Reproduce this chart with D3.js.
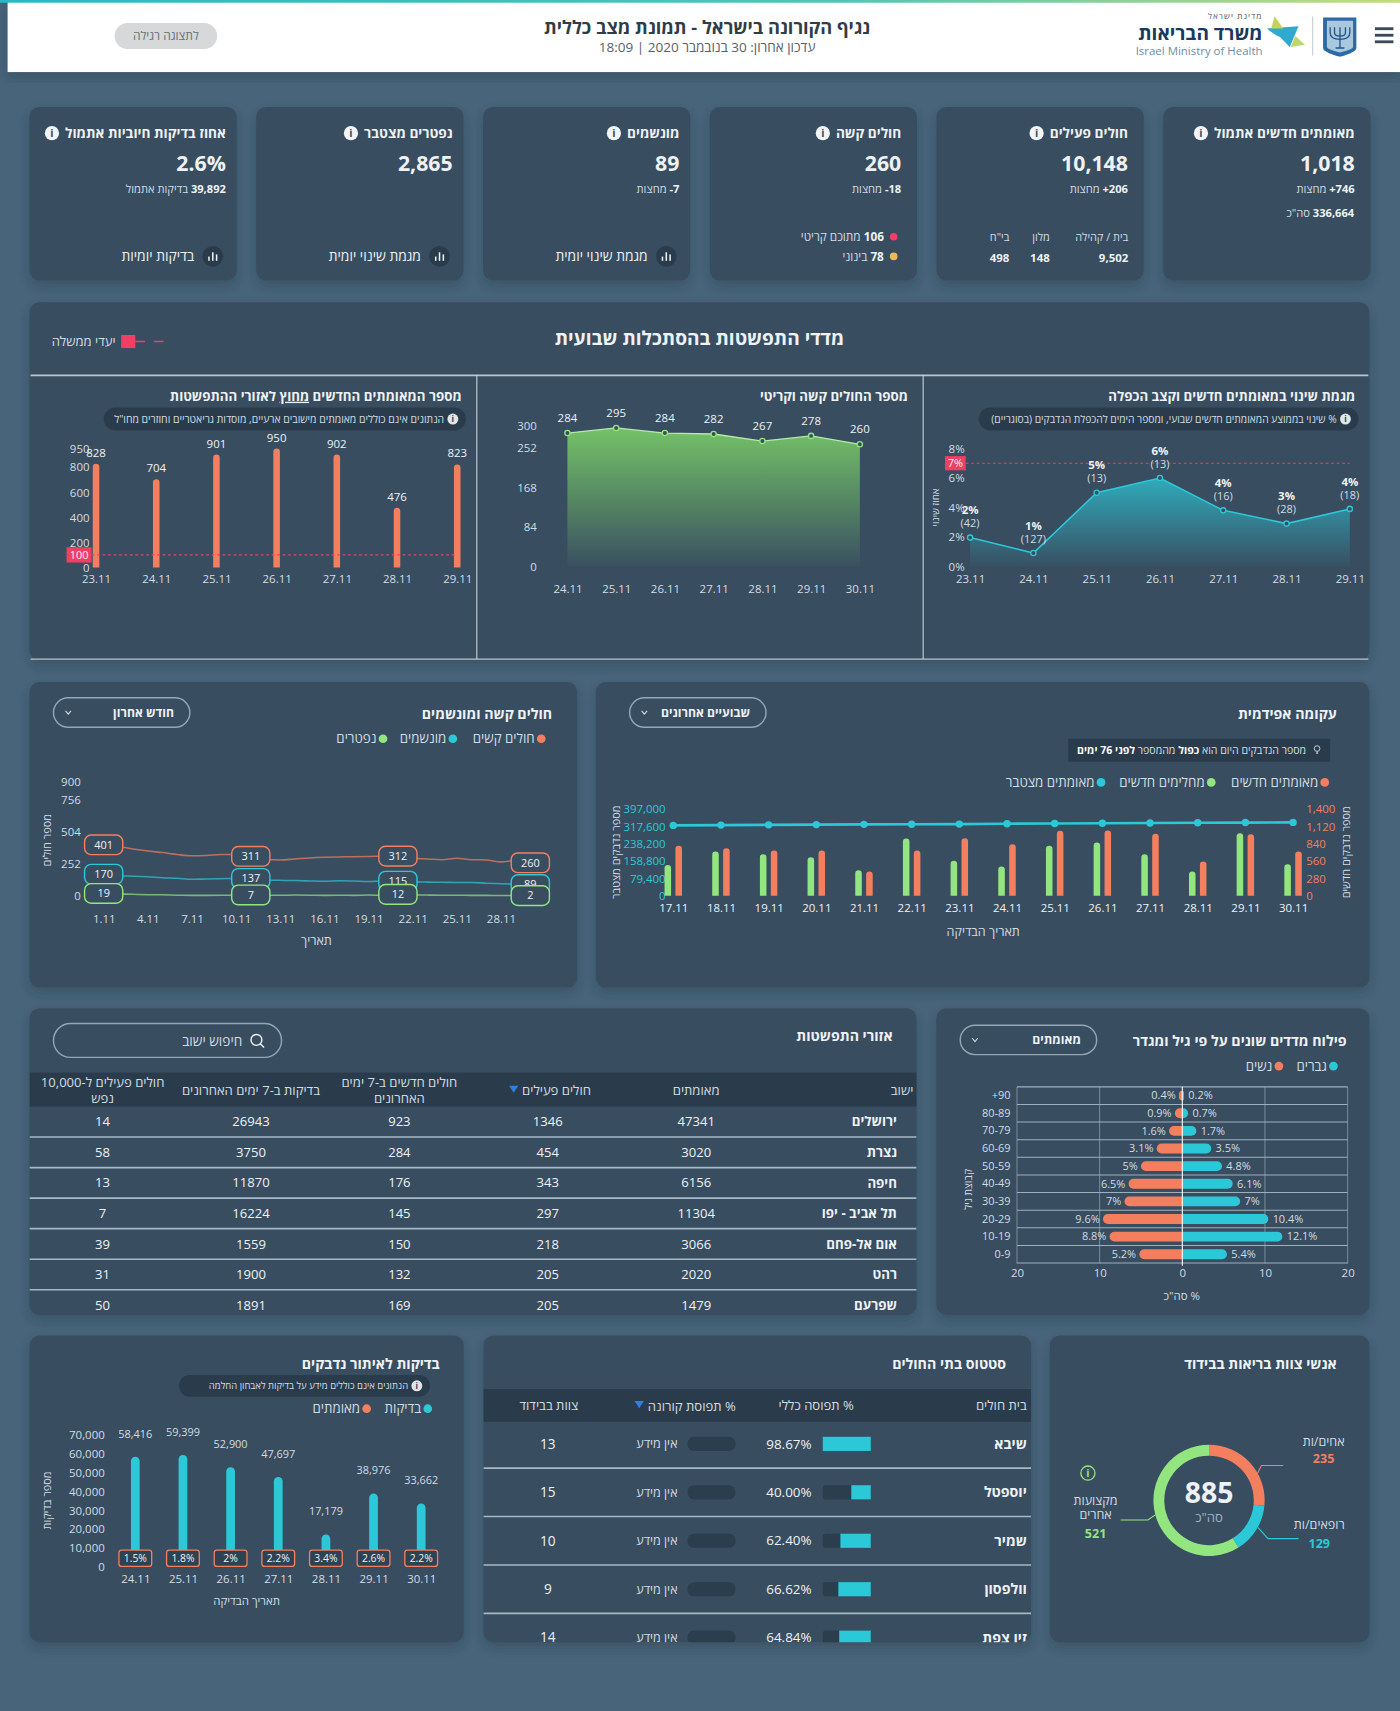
<!DOCTYPE html>
<html lang="he">
<head>
<meta charset="utf-8">
<title>נגיף הקורונה בישראל</title>
<script src="https://cdn.jsdelivr.net/npm/d3@7/dist/d3.min.js"></script>
<style>
html, body { margin: 0; padding: 0; background: #48647a; }
svg { display: block; font-family: "Open Sans", "Liberation Sans", "DejaVu Sans", sans-serif; }
</style>
</head>
<body>
<div id="chart"></div>
<script>
// KPI cards, right to left
var kpiTitles = ['מאומתים חדשים אתמול', 'חולים פעילים', 'חולים קשה', 'מונשמים', 'נפטרים מצטבר', 'אחוז בדיקות חיוביות אתמול'];
var kpiValues = ['1,018', '10,148', '260', '89', '2,865', '2.6%'];
var kpiSubNumbers = ['\u200E+746', '\u200E+206', '\u200E-18', '\u200E-7', '', '39,892'];
var kpiSubTexts = [' מחצות', ' מחצות', ' מחצות', ' מחצות', '', ' בדיקות אתמול'];

// weekly indicators
var trendDates = ['23.11', '24.11', '25.11', '26.11', '27.11', '28.11', '29.11'];
var trendPct = [1.95, 0.9, 5, 6, 3.8, 2.9, 3.9];
var trendPctLabels = ['2%', '1%', '5%', '6%', '4%', '3%', '4%'];
var trendDoubling = ['(42)', '(127)', '(13)', '(13)', '(16)', '(28)', '(18)'];
var trendTicks = [0, 2, 4, 6, 8];

var severeDates = ['24.11', '25.11', '26.11', '27.11', '28.11', '29.11', '30.11'];
var severeWeek = [284, 295, 284, 282, 267, 278, 260];
var severeTicks = [0, 84, 168, 252, 300];

var outsideConfirmed = [828, 704, 901, 950, 902, 476, 823];
var outsideTicks = [0, 200, 400, 600, 800, 950];

// epidemic curve
var epiDates = ['17.11', '18.11', '19.11', '20.11', '21.11', '22.11', '23.11', '24.11', '25.11', '26.11', '27.11', '28.11', '29.11', '30.11'];
var epiNew = [808, 770, 733, 733, 393, 733, 932, 835, 1051, 1056, 1002, 555, 997, 717];
var epiRecovered = [500, 717, 673, 625, 415, 927, 566, 474, 808, 862, 673, 393, 1013, 512];
var epiCumulative = [323000, 324300, 325400, 326600, 327800, 328400, 328900, 330600, 331900, 333000, 334000, 335000, 335900, 336664];
var epiRightTicks = [0, 280, 560, 840, 1120, 1400];
var epiLeftTicks = [0, 79400, 158800, 238200, 317600, 397000];

// severe, ventilated, deaths by day of November
var monthDays = d3.range(1, 31);
var monthSevere = [401, 388, 368, 352, 340, 325, 315, 318, 325, 325, 311, 285, 282, 290, 298, 303, 306, 308, 310, 311, 312, 295, 290, 284, 295, 284, 282, 267, 278, 260];
var monthVent = [170, 158, 155, 150, 143, 138, 130, 133, 135, 137, 137, 125, 122, 120, 117, 115, 118, 116, 113, 116, 115, 110, 108, 107, 105, 105, 100, 96, 92, 89];
var monthDeaths = [19, 15, 12, 9, 8, 5, 4, 4, 5, 6, 7, 5, 5, 6, 5, 4, 5, 4, 6, 5, 12, 8, 6, 5, 5, 4, 4, 3, 3, 2];
var monthTickDays = [1, 4, 7, 10, 13, 16, 19, 22, 25, 28];
var monthMarkDays = [1, 11, 21, 30];
var monthTicks = [0, 252, 504, 756, 900];

// age and gender
var ageGroups = ['+90', '80-89', '70-79', '60-69', '50-59', '40-49', '30-39', '20-29', '10-19', '0-9'];
var agesWomen = [0.4, 0.9, 1.6, 3.1, 5, 6.5, 7, 9.6, 8.8, 5.2];
var agesMen = [0.2, 0.7, 1.7, 3.5, 4.8, 6.1, 7, 10.4, 12.1, 5.4];

// cities table
var cityHeaders = [['ישוב'], ['מאומתים'], ['חולים פעילים'], ['חולים חדשים ב-7 ימים', 'האחרונים'], ['בדיקות ב-7 ימים האחרונים'], ['חולים פעילים ל-10,000', 'נפש']];
var cityNames = ['ירושלים', 'נצרת', 'חיפה', 'תל אביב - יפו', 'אום אל-פחם', 'רהט', 'שפרעם'];
var cityConfirmed = [47341, 3020, 6156, 11304, 3066, 2020, 1479];
var cityActive = [1346, 454, 343, 297, 218, 205, 205];
var cityNew = [923, 284, 176, 145, 150, 132, 169];
var cityTests = [26943, 3750, 11870, 16224, 1559, 1900, 1891];
var cityPer10k = [14, 58, 13, 7, 39, 31, 50];

// hospitals
var hospitalHeaders = ['בית חולים', '% תפוסה כללי', '% תפוסת קורונה', 'צוות בבידוד'];
var hospitalNames = ['שיבא', 'יוספטל', 'שמיר', 'וולפסון', 'זיו צפת'];
var hospitalOccupancy = [98.67, 40.00, 62.40, 66.62, 64.84];
var hospitalStaff = [13, 15, 10, 9, 14];

// staff in isolation
var staffLabels = ['אחים/ות', 'רופאים/ות', 'מקצועות אחרים'];
var staffValues = [235, 129, 521];

// tests
var testDates = ['24.11', '25.11', '26.11', '27.11', '28.11', '29.11', '30.11'];
var testValues = [58416, 59399, 52900, 47697, 17179, 38976, 33662];
var testPositive = ['1.5%', '1.8%', '2%', '2.2%', '3.4%', '2.6%', '2.2%'];
var testTicks = [0, 10000, 20000, 30000, 40000, 50000, 60000, 70000];

var ORANGE = '#f47f5f', GREEN = '#93e57f', BLUE = '#2bc9d8', CARD = '#384e60', DARK = '#2a3c4b',
    LIGHT = '#eef2f5', SOFT = '#d3dce2', RED = '#ef3f63', RULE = '#a5b9c6';

// the whole page is laid out on a 1283 wide grid
var svg = d3.select('#chart').append('svg')
    .attr('width', 1400)
    .attr('height', 1711)
    .attr('viewBox', '0 0 1283 1568');

var defs = svg.append('defs');

var shadow = defs.append('filter').attr('id', 'shadow')
    .attr('x', '-10%').attr('y', '-10%').attr('width', '120%').attr('height', '125%');
shadow.append('feDropShadow')
    .attr('dx', 0).attr('dy', 5).attr('stdDeviation', 5)
    .attr('flood-color', '#1e2c38').attr('flood-opacity', 0.3);

function gradient(id, color, from) {
    var g = defs.append('linearGradient').attr('id', id)
        .attr('x1', 0).attr('y1', 0).attr('x2', 0).attr('y2', 1);
    g.append('stop').attr('offset', 0).attr('stop-color', color).attr('stop-opacity', from);
    g.append('stop').attr('offset', 1).attr('stop-color', color).attr('stop-opacity', 0.03);
}
gradient('tealFill', '#2fb0c0', 0.95);
gradient('greenFill', '#74c267', 1);

var stripe = defs.append('linearGradient').attr('id', 'stripe');
stripe.append('stop').attr('offset', 0).attr('stop-color', '#2bb8c4');
stripe.append('stop').attr('offset', 0.6).attr('stop-color', '#4fc6b4');
stripe.append('stop').attr('offset', 1).attr('stop-color', '#c3dc7c');

// y is the vertical middle of the text, x its right edge unless anchor says otherwise
function label(parent, x, y, str, size, o) {
    o = o || {};
    return parent.append('text')
        .attr('x', x)
        .attr('y', y)
        .attr('dy', '.35em')
        .attr('direction', o.ltr ? 'ltr' : 'rtl')
        .attr('text-anchor', o.anchor || 'start')
        .attr('font-size', size)
        .attr('font-weight', o.bold ? 700 : 400)
        .attr('fill', o.fill || LIGHT)
        .text(str);
}

// a bold number followed by plain words
function numbered(parent, x, y, num, words, size) {
    var t = label(parent, x, y, '', size, {fill: SOFT});
    t.append('tspan').attr('font-weight', 700).attr('fill', LIGHT).text(num);
    t.append('tspan').text(words);
    return t;
}

function vlabel(parent, x, y, str, size) {
    return label(parent, 0, 0, str, size, {anchor: 'middle', fill: SOFT})
        .attr('transform', 'translate(' + x + ',' + y + ') rotate(-90)');
}

function panel(x, y, w, h) {
    return svg.append('rect')
        .attr('x', x).attr('y', y).attr('width', w).attr('height', h)
        .attr('rx', 9)
        .attr('fill', CARD)
        .attr('filter', 'url(#shadow)');
}

function clipTo(id, x, y, w, h) {
    defs.append('clipPath').attr('id', id).append('rect')
        .attr('x', x).attr('y', y).attr('width', w).attr('height', h).attr('rx', 9);
    return svg.append('g').attr('clip-path', 'url(#' + id + ')');
}

function infoIcon(parent, x, y, r, bg, fg) {
    parent.append('circle').attr('cx', x).attr('cy', y).attr('r', r).attr('fill', bg);
    label(parent, x, y, 'i', r * 1.5, {anchor: 'middle', ltr: true, bold: true, fill: fg});
}

function hint(parent, x0, x1, y, h, str, size) {
    parent.append('rect').attr('x', x0).attr('y', y - h / 2).attr('width', x1 - x0).attr('height', h)
        .attr('rx', h / 2).attr('fill', DARK);
    infoIcon(parent, x1 - 12, y, 5, '#dfe6ea', DARK);
    return label(parent, x1 - 20, y, str, size, {fill: SOFT});
}

function dropdown(x0, x1, y, h, str) {
    svg.append('rect').attr('x', x0).attr('y', y - h / 2).attr('width', x1 - x0).attr('height', h)
        .attr('rx', h / 2).attr('fill', 'none').attr('stroke', '#93a7b5').attr('stroke-width', 1.3);
    label(svg, x1 - 14.5, y, str, 11.2, {bold: true});
    svg.append('path')
        .attr('d', 'M' + (x0 + 11) + ',' + (y - 1.5) + 'l2.5,3l2.5,-3')
        .attr('fill', 'none').attr('stroke', SOFT);
}

function legendDot(parent, x, y, color, str, size) {
    parent.append('circle').attr('cx', x).attr('cy', y).attr('r', 4).attr('fill', color);
    label(parent, x - 6, y, str, size || 12.2, {fill: SOFT});
}

function styleAxis(g, size, color) {
    g.select('.domain').remove();
    g.selectAll('.tick line').remove();
    g.selectAll('text').attr('font-size', size).attr('fill', color || SOFT);
    g.attr('font-family', null);
    return g;
}

// bar with a rounded top, or rounded end when sideways
function roundTop(x, y0, y1, w) {
    var r = Math.min(w / 2, Math.abs(y0 - y1));
    return 'M' + (x - w / 2) + ',' + y0 + 'V' + (y1 + r) +
        'A' + r + ',' + r + ' 0 0 1 ' + (x - w / 2 + r) + ',' + y1 +
        'H' + (x + w / 2 - r) +
        'A' + r + ',' + r + ' 0 0 1 ' + (x + w / 2) + ',' + (y1 + r) +
        'V' + y0 + 'Z';
}

function roundSide(x0, x1, y, h) {
    var s = x1 > x0 ? 1 : 0,
        d = x1 > x0 ? 1 : -1,
        r = Math.min(h / 2, Math.abs(x1 - x0));
    return 'M' + x0 + ',' + (y - h / 2) + 'H' + (x1 - d * r) +
        'A' + r + ',' + r + ' 0 0 ' + s + ' ' + x1 + ',' + (y - h / 2 + r) +
        'V' + (y + h / 2 - r) +
        'A' + r + ',' + r + ' 0 0 ' + s + ' ' + (x1 - d * r) + ',' + (y + h / 2) +
        'H' + x0 + 'Z';
}

// ---- header
svg.append('rect').attr('x', 7).attr('y', 0).attr('width', 1276).attr('height', 66)
    .attr('fill', '#fff').attr('filter', 'url(#shadow)');
svg.append('rect').attr('x', 0).attr('y', 0).attr('width', 1283).attr('height', 2.5).attr('fill', 'url(#stripe)');

label(svg, 648, 25, 'נגיף הקורונה בישראל - תמונת מצב כללית', 16.7, {anchor: 'middle', bold: true, fill: '#2f3d49'});
label(svg, 648, 43, 'עדכון אחרון: 30 בנובמבר 2020 | 18:09', 12.4, {anchor: 'middle', fill: '#55626d'});

svg.append('rect').attr('x', 105).attr('y', 21).attr('width', 94).attr('height', 24).attr('rx', 12).attr('fill', '#d6d8da');
label(svg, 152, 33, 'לתצוגה רגילה', 11, {anchor: 'middle', fill: '#66717a'});

label(svg, 1157, 15, 'מדינת ישראל', 7.5, {fill: '#44586a'}).attr('letter-spacing', 1);
label(svg, 1157, 30.5, 'משרד הבריאות', 17.5, {bold: true, fill: '#17395c'});
label(svg, 1157, 46.5, 'Israel Ministry of Health', 10.5, {ltr: true, anchor: 'end', fill: '#6f8da6'});
svg.append('path').attr('d', 'M1161,26L1190,24L1182,43L1173,34Q1168,32 1161,26Z').attr('fill', '#2fa9cf');
svg.append('path').attr('d', 'M1168,15L1176,26L1165,26Z').attr('fill', '#c6d25a');
svg.append('path').attr('d', 'M1187,33L1196,41L1183,43Z').attr('fill', '#bcd86a');
svg.append('rect').attr('x', 1202.5).attr('y', 15).attr('width', 1).attr('height', 36).attr('fill', '#c3ccd3');
svg.append('path').attr('d', 'M1212.5,16H1243V44Q1243,48 1228,52Q1212.5,48 1212.5,44Z').attr('fill', '#2a6ba3');
svg.append('path').attr('d', 'M1216,19H1240V43Q1240,45 1228,48Q1216,45 1216,43Z').attr('fill', '#a9c8de');
svg.append('path').attr('d', 'M1219,25V30Q1219,36 1228,36Q1237,36 1237,30V25M1223,25V30Q1223,33 1228,33Q1233,33 1233,30V25M1228,25V44M1224,44H1232')
    .attr('fill', 'none').attr('stroke', '#1f5688').attr('stroke-width', 1.2);
[26, 32, 38].forEach(function(y) {
    svg.append('rect').attr('x', 1260).attr('y', y - 1).attr('width', 17).attr('height', 2.6).attr('fill', '#3a4a58');
});

// ---- KPI cards
var cardRight = d3.scaleLinear().domain([0, 5]).range([1256, 217]);
kpiTitles.forEach(function(title, i) {
    var right = cardRight(i),
        textRight = right - (i >= 3 ? 10 : 14.5),
        g = svg.append('g');
    g.append('rect').attr('x', right - 190).attr('y', 98).attr('width', 190).attr('height', 159)
        .attr('rx', 9).attr('fill', CARD).attr('filter', 'url(#shadow)');
    var t = label(g, textRight, 122, title, 12.5, {bold: true});
    infoIcon(g, textRight - t.node().getComputedTextLength() - 12, 122, 6.5, '#f2f5f7', CARD);
    label(g, textRight, 150, kpiValues[i], 19.5, {bold: true});
    if (kpiSubNumbers[i]) numbered(g, textRight, 173, kpiSubNumbers[i], kpiSubTexts[i], 10.2);

    if (i >= 3) {
        g.append('circle').attr('cx', right - 22).attr('cy', 235).attr('r', 9.5).attr('fill', DARK);
        [[-3.5, 3], [0, 6], [3.5, 4.5]].forEach(function(b) {
            g.append('rect').attr('x', right - 22 + b[0] - 0.7).attr('y', 235 + 4 - b[1] * 1.3)
                .attr('width', 1.4).attr('height', b[1] * 1.3).attr('fill', LIGHT);
        });
        label(g, right - 39, 235, i === 5 ? 'בדיקות יומיות' : 'מגמת שינוי יומית', 12.7, {});
    }
});

var card0 = svg.append('g');
numbered(card0, 1241, 195, '336,664', ' סה"כ', 10.2);

var card1 = svg.append('g');
label(card1, 1034, 217, 'בית / קהילה', 10, {fill: SOFT});
label(card1, 962, 217, 'מלון', 10, {fill: SOFT});
label(card1, 925, 217, 'בי"ח', 10, {fill: SOFT});
label(card1, 1034, 236, '9,502', 10.5, {bold: true});
label(card1, 962, 236, '148', 10.5, {bold: true});
label(card1, 925, 236, '498', 10.5, {bold: true});

var card2 = svg.append('g');
card2.append('circle').attr('cx', 819).attr('cy', 217).attr('r', 3.5).attr('fill', RED);
card2.append('circle').attr('cx', 819).attr('cy', 235).attr('r', 3.5).attr('fill', '#e8bd4e');
numbered(card2, 810, 217, '106', ' מתוכם קריטי', 10.8);
numbered(card2, 810, 235, '78', ' בינוני', 10.8);

// ---- weekly indicators panel
panel(27, 277, 1228, 328);
label(svg, 641, 310, 'מדדי התפשטות בהסתכלות שבועית', 17.5, {anchor: 'middle', bold: true});
label(svg, 106, 313, 'יעדי ממשלה', 12, {fill: SOFT});
svg.append('rect').attr('x', 111).attr('y', 307).attr('width', 13).attr('height', 12).attr('fill', RED);
svg.append('line').attr('x1', 124).attr('x2', 150).attr('y1', 313).attr('y2', 313)
    .attr('stroke', RED).attr('stroke-width', 1.5).attr('stroke-dasharray', '9,8');
svg.append('line').attr('x1', 28).attr('x2', 1254).attr('y1', 344).attr('y2', 344).attr('stroke', '#b6c7d2').attr('stroke-width', 1.5);
svg.append('line').attr('x1', 28).attr('x2', 1254).attr('y1', 604).attr('y2', 604).attr('stroke', '#b6c7d2').attr('stroke-width', 1.2);
[437, 846].forEach(function(x) {
    svg.append('line').attr('x1', x).attr('x2', x).attr('y1', 344).attr('y2', 604).attr('stroke', '#d8e1e7').attr('stroke-width', 0.9);
});

function goalLine(x0, x1, y, box, str) {
    svg.append('line').attr('x1', x0).attr('x2', x1).attr('y1', y).attr('y2', y)
        .attr('stroke', RED).attr('stroke-width', 1).attr('stroke-dasharray', '2.5,2.5');
    svg.append('rect').attr('x', box[0]).attr('y', y - box[1] / 2).attr('width', x0 - box[0]).attr('height', box[1]).attr('fill', RED);
    label(svg, (box[0] + x0) / 2, y, str, 10, {anchor: 'middle', ltr: true});
}

// change in new cases
label(svg, 1242, 363, 'מגמת שינוי במאומתים חדשים וקצב הכפלה', 12.2, {bold: true});
hint(svg, 897, 1245, 384, 21, '% שינוי בממוצע המאומתים חדשים שבועי, ומספר הימים להכפלת הנדבקים (בסוגריים)', 9.4);

var trendX = d3.scalePoint().domain(trendDates).range([889, 1237]),
    trendY = d3.scaleLinear().domain([0, 8]).range([519, 411]);

svg.append('g').attr('transform', 'translate(884,0)')
    .call(d3.axisLeft(trendY).tickValues(trendTicks).tickFormat(function(d) { return d + '%'; }).tickSize(0).tickPadding(0))
    .call(styleAxis, 10.5);
svg.append('g').attr('transform', 'translate(0,519)')
    .call(d3.axisBottom(trendX).tickSize(0).tickPadding(8))
    .call(styleAxis, 10.5);
vlabel(svg, 857, 465, 'אחוז שינוי', 9);

svg.append('path').datum(trendPct)
    .attr('fill', 'url(#tealFill)')
    .attr('d', d3.area().x(function(d, i) { return trendX(trendDates[i]); }).y0(trendY(0)).y1(function(d) { return trendY(d); }));
svg.append('path').datum(trendPct)
    .attr('fill', 'none').attr('stroke', BLUE).attr('stroke-width', 1.4)
    .attr('d', d3.line().x(function(d, i) { return trendX(trendDates[i]); }).y(function(d) { return trendY(d); }));
goalLine(885, 1237, trendY(7), [866, 13], '7%');
trendPct.forEach(function(v, i) {
    var x = trendX(trendDates[i]), y = trendY(v);
    svg.append('circle').attr('cx', x).attr('cy', y).attr('r', 2.4).attr('fill', CARD).attr('stroke', BLUE).attr('stroke-width', 1.2);
    label(svg, x, y - 25, trendPctLabels[i], 10.5, {anchor: 'middle', ltr: true, bold: true});
    label(svg, x, y - 13, trendDoubling[i], 10, {anchor: 'middle', ltr: true, fill: SOFT});
});

// severe patients
label(svg, 832, 363, 'מספר החולים קשה וקריטי', 12.2, {bold: true});

var severeX = d3.scalePoint().domain(severeDates).range([520, 788]),
    severeY = d3.scaleLinear().domain([0, 300]).range([519, 390]);

svg.append('g').attr('transform', 'translate(492,0)')
    .call(d3.axisLeft(severeY).tickValues(severeTicks).tickSize(0).tickPadding(0))
    .call(styleAxis, 10.5);
svg.append('g').attr('transform', 'translate(0,519)')
    .call(d3.axisBottom(severeX).tickSize(0).tickPadding(17))
    .call(styleAxis, 10.5);
svg.append('path').datum(severeWeek)
    .attr('fill', 'url(#greenFill)')
    .attr('d', d3.area().x(function(d, i) { return severeX(severeDates[i]); }).y0(severeY(0)).y1(function(d) { return severeY(d); }));
svg.append('path').datum(severeWeek)
    .attr('fill', 'none').attr('stroke', '#b9e8ae').attr('stroke-width', 1.2)
    .attr('d', d3.line().x(function(d, i) { return severeX(severeDates[i]); }).y(function(d) { return severeY(d); }));
severeWeek.forEach(function(v, i) {
    var x = severeX(severeDates[i]), y = severeY(v);
    svg.append('circle').attr('cx', x).attr('cy', y).attr('r', 2.4).attr('fill', CARD).attr('stroke', GREEN).attr('stroke-width', 1.2);
    label(svg, x, y - 14, v, 10.5, {anchor: 'middle', ltr: true});
});

// new cases outside the spread areas
var outsideTitle = label(svg, 423, 363, '', 12.2, {bold: true});
outsideTitle.append('tspan').text('מספר המאומתים החדשים ');
outsideTitle.append('tspan').attr('text-decoration', 'underline').text('מחוץ');
outsideTitle.append('tspan').text(' לאזורי ההתפשטות');
hint(svg, 95, 427, 384, 21, 'הנתונים אינם כוללים מאומתים מישובים ארעיים, מוסדות גריאטריים וחוזרים מחו"ל', 9.5);

var outsideX = d3.scalePoint().domain(trendDates).range([88, 419]),
    outsideY = d3.scaleLinear().domain([0, 950]).range([520, 411]);

svg.append('g').attr('transform', 'translate(82,0)')
    .call(d3.axisLeft(outsideY).tickValues(outsideTicks).tickSize(0).tickPadding(0))
    .call(styleAxis, 10.5);
svg.append('g').attr('transform', 'translate(0,520)')
    .call(d3.axisBottom(outsideX).tickSize(0).tickPadding(7))
    .call(styleAxis, 10.5);
svg.selectAll('.outside').data(outsideConfirmed).enter().append('path')
    .attr('class', 'outside')
    .attr('fill', ORANGE)
    .attr('d', function(d, i) { return roundTop(outsideX(trendDates[i]), outsideY(0), outsideY(d), 6); });
outsideConfirmed.forEach(function(v, i) {
    label(svg, outsideX(trendDates[i]), outsideY(v) - 10, v, 10.5, {anchor: 'middle', ltr: true});
});
goalLine(84, 419, outsideY(100), [61, 14], '100');

// ---- epidemic curve
panel(546, 625, 709, 280);
label(svg, 1225, 654, 'עקומה אפידמית', 13, {bold: true});
dropdown(577, 702, 653, 27, 'שבועיים אחרונים');
svg.append('rect').attr('x', 979).attr('y', 677).attr('width', 240).attr('height', 21).attr('fill', DARK);
var tip = label(svg, 1197, 687.5, '', 9.7, {fill: SOFT});
tip.append('tspan').text('מספר הנדבקים היום הוא ');
tip.append('tspan').attr('font-weight', 700).attr('fill', '#fff').text('כפול');
tip.append('tspan').text(' מהמספר ');
tip.append('tspan').attr('font-weight', 700).attr('fill', '#fff').text('לפני 76 ימים');
svg.append('circle').attr('cx', 1207).attr('cy', 686).attr('r', 2.6).attr('fill', 'none').attr('stroke', SOFT).attr('stroke-width', 0.8);
svg.append('line').attr('x1', 1207).attr('x2', 1207).attr('y1', 688.6).attr('y2', 691).attr('stroke', SOFT).attr('stroke-width', 1.2);
legendDot(svg, 1214, 717, ORANGE, 'מאומתים חדשים');
legendDot(svg, 1110, 717, GREEN, 'מחלימים חדשים');
legendDot(svg, 1009, 717, BLUE, 'מאומתים מצטבר');

var epiX = d3.scalePoint().domain(epiDates).range([617, 1185]),
    epiRight = d3.scaleLinear().domain([0, 1400]).range([821, 741.6]),
    epiLeft = d3.scaleLinear().domain([0, 397000]).range([821, 741.6]);

svg.append('g').attr('transform', 'translate(610,0)')
    .call(d3.axisLeft(epiLeft).tickValues(epiLeftTicks).tickFormat(d3.format(',')).tickSize(0).tickPadding(0))
    .call(styleAxis, 10.5, BLUE);
svg.append('g').attr('transform', 'translate(1197,0)')
    .call(d3.axisRight(epiRight).tickValues(epiRightTicks).tickFormat(d3.format(',')).tickSize(0).tickPadding(0))
    .call(styleAxis, 10.5, ORANGE);
svg.append('g').attr('transform', 'translate(0,821)')
    .call(d3.axisBottom(epiX).tickSize(0).tickPadding(7))
    .call(styleAxis, 10.5, LIGHT);
svg.selectAll('.recovered').data(epiRecovered).enter().append('path')
    .attr('class', 'recovered').attr('fill', GREEN)
    .attr('d', function(d, i) { return roundTop(epiX(epiDates[i]) - 5, epiRight(0), epiRight(d), 6); });
svg.selectAll('.confirmed').data(epiNew).enter().append('path')
    .attr('class', 'confirmed').attr('fill', ORANGE)
    .attr('d', function(d, i) { return roundTop(epiX(epiDates[i]) + 5, epiRight(0), epiRight(d), 6); });
svg.append('path').datum(epiCumulative)
    .attr('fill', 'none').attr('stroke', BLUE).attr('stroke-width', 2.4)
    .attr('d', d3.line().x(function(d, i) { return epiX(epiDates[i]); }).y(function(d) { return epiLeft(d); }));
svg.selectAll('.cumulative').data(epiCumulative).enter().append('circle')
    .attr('class', 'cumulative').attr('fill', BLUE).attr('r', 3.4)
    .attr('cx', function(d, i) { return epiX(epiDates[i]); })
    .attr('cy', function(d) { return epiLeft(d); });
vlabel(svg, 565, 781, 'מספר נדבקים מצטבר', 10);
vlabel(svg, 1234, 781, 'מספר נדבקים חדשים', 10);
label(svg, 901, 854, 'תאריך הבדיקה', 11.5, {anchor: 'middle', fill: SOFT});

// ---- severe and ventilated
panel(27, 625, 502, 280);
label(svg, 506, 654, 'חולים קשה ומונשמים', 13, {bold: true});
dropdown(49, 174, 653, 27, 'חודש אחרון');
legendDot(svg, 496, 677, ORANGE, 'חולים קשים');
legendDot(svg, 415, 677, BLUE, 'מונשמים');
legendDot(svg, 351, 677, GREEN, 'נפטרים');

var monthX = d3.scaleLinear().domain([1, 30]).range([95, 486]),
    monthY = d3.scaleLinear().domain([0, 900]).range([821, 716]);

svg.append('g').attr('transform', 'translate(74,0)')
    .call(d3.axisLeft(monthY).tickValues(monthTicks).tickSize(0).tickPadding(0))
    .call(styleAxis, 10.5);
svg.append('g').attr('transform', 'translate(0,831)')
    .call(d3.axisBottom(monthX).tickValues(monthTickDays).tickFormat(function(d) { return d + '.11'; }).tickSize(0).tickPadding(7))
    .call(styleAxis, 10.5);
vlabel(svg, 43, 770, 'מספר חולים', 10);
label(svg, 290, 862, 'תאריך', 11.5, {anchor: 'middle', fill: SOFT});

[[monthSevere, ORANGE], [monthVent, BLUE], [monthDeaths, GREEN]].forEach(function(s) {
    svg.append('path').datum(s[0])
        .attr('fill', 'none').attr('stroke', s[1]).attr('stroke-width', 1.4).attr('stroke-opacity', 0.7)
        .attr('d', d3.line().curve(d3.curveMonotoneX)
            .x(function(d, i) { return monthX(monthDays[i]); })
            .y(function(d) { return monthY(d); }));
    monthMarkDays.forEach(function(day) {
        var v = s[0][day - 1], x = monthX(day), y = monthY(v);
        svg.append('rect').attr('x', x - 17.5).attr('y', y - 9).attr('width', 35).attr('height', 18).attr('rx', 6)
            .attr('fill', CARD).attr('stroke', s[1]).attr('stroke-width', 1.3);
        label(svg, x, y, v, 10, {anchor: 'middle', ltr: true});
    });
});

// ---- age pyramid
panel(858, 924, 397, 281);
label(svg, 1234, 954, 'פילוח מדדים שונים על פי גיל ומגדר', 13, {bold: true});
dropdown(880, 1005, 953, 27, 'מאומתים');
legendDot(svg, 1222, 977, BLUE, 'גברים');
legendDot(svg, 1172, 977, ORANGE, 'נשים');

var ageX = d3.scaleLinear().domain([-20, 20]).range([932, 1235]),
    ageY = d3.scaleBand().domain(ageGroups).range([996, 1157.5]);

svg.append('g').attr('transform', 'translate(0,1158)')
    .call(d3.axisBottom(ageX).tickValues([-20, -10, 0, 10, 20]).tickFormat(function(d) { return Math.abs(d); }).tickSize(0).tickPadding(5))
    .call(styleAxis, 10.5);
svg.append('g').attr('transform', 'translate(926,0)')
    .call(d3.axisLeft(ageY).tickSize(0).tickPadding(0))
    .call(styleAxis, 10);
[-20, -10, 10, 20].forEach(function(t) {
    svg.append('line').attr('x1', ageX(t)).attr('x2', ageX(t)).attr('y1', 996).attr('y2', 1158).attr('stroke', '#7f95a5').attr('stroke-width', 0.8);
});
ageGroups.concat(['end']).forEach(function(a, i) {
    var y = 996 + i * ageY.step();
    svg.append('line').attr('x1', ageX(-20)).attr('x2', ageX(20)).attr('y1', y).attr('y2', y).attr('stroke', '#9cb0be').attr('stroke-width', 1);
});
ageGroups.forEach(function(a, i) {
    var y = ageY(a) + ageY.bandwidth() / 2;
    svg.append('path').attr('fill', ORANGE).attr('d', roundSide(ageX(0), ageX(-agesWomen[i]), y, 9));
    svg.append('path').attr('fill', BLUE).attr('d', roundSide(ageX(0), ageX(agesMen[i]), y, 9));
    label(svg, ageX(-agesWomen[i]) - 3, y, agesWomen[i] + '%', 10, {ltr: true, anchor: 'end', fill: SOFT});
    label(svg, ageX(agesMen[i]) + 4, y, agesMen[i] + '%', 10, {ltr: true, anchor: 'start', fill: SOFT});
});
svg.append('line').attr('x1', ageX(0)).attr('x2', ageX(0)).attr('y1', 996).attr('y2', 1160).attr('stroke', '#fff').attr('stroke-width', 1);
vlabel(svg, 887, 1090, 'קבוצת גיל', 9.5);
label(svg, 1083, 1188, '% סה"כ', 10.5, {anchor: 'middle', fill: SOFT});

// ---- cities table
panel(27, 924, 813, 281);
label(svg, 818, 949, 'אזורי התפשטות', 13, {bold: true});
svg.append('rect').attr('x', 49).attr('y', 938).attr('width', 209).attr('height', 31).attr('rx', 15.5)
    .attr('fill', 'none').attr('stroke', '#93a7b5').attr('stroke-width', 1.3);
label(svg, 222, 954, 'חיפוש ישוב', 12.5, {fill: SOFT});
svg.append('circle').attr('cx', 235).attr('cy', 953).attr('r', 5).attr('fill', 'none').attr('stroke', LIGHT).attr('stroke-width', 1.3);
svg.append('line').attr('x1', 238.5).attr('y1', 956.5).attr('x2', 242).attr('y2', 960).attr('stroke', LIGHT).attr('stroke-width', 1.3);

var cityLayer = clipTo('cityClip', 27, 924, 813, 281);
cityLayer.append('rect').attr('x', 27).attr('y', 983).attr('width', 813).attr('height', 31).attr('fill', DARK);

var cityRow = d3.scaleBand().domain(d3.range(cityNames.length)).range([1014, 1210]),
    cityCol = d3.scaleOrdinal().domain(d3.range(6)).range([837, 638, 502, 366, 230, 94]);

cityHeaders.forEach(function(lines, c) {
    lines.forEach(function(line, j) {
        var y = 999 + (j - (lines.length - 1) / 2) * 15;
        label(cityLayer, c === 2 ? 510 : cityCol(c), y, line, 12, {anchor: c ? 'middle' : 'start', fill: SOFT});
    });
});
cityLayer.append('path').attr('d', 'M466.5,995h8.5l-4.2,6.5z').attr('fill', '#2f80dc');

[cityConfirmed, cityActive, cityNew, cityTests, cityPer10k].forEach(function(col, c) {
    col.forEach(function(v, r) {
        label(cityLayer, cityCol(c + 1), cityRow(r) + cityRow.bandwidth() / 2, v, 12, {anchor: 'middle', ltr: true});
    });
});
cityNames.forEach(function(name, r) {
    var y = cityRow(r) + cityRow.bandwidth() / 2;
    label(cityLayer, 822, y, name, 12.2, {bold: true});
    if (r < cityNames.length - 1) {
        cityLayer.append('line').attr('x1', 27).attr('x2', 840).attr('y1', cityRow(r + 1)).attr('y2', cityRow(r + 1))
            .attr('stroke', RULE).attr('stroke-width', 1.5);
    }
});

// ---- staff in isolation
panel(962, 1224, 293, 281);
label(svg, 1225, 1250, 'אנשי צוות בריאות בבידוד', 13, {bold: true});

var staffColors = [ORANGE, BLUE, GREEN],
    staffPie = d3.pie().sort(null)(staffValues),
    staffArc = d3.arc().innerRadius(41).outerRadius(51);

svg.append('g').attr('transform', 'translate(1108,1375)')
    .selectAll('path').data(staffPie).enter().append('path')
    .attr('fill', function(d, i) { return staffColors[i]; })
    .attr('d', staffArc);
label(svg, 1108, 1368, d3.sum(staffValues), 26, {anchor: 'middle', ltr: true, bold: true});
label(svg, 1108, 1391, 'סה"כ', 12, {anchor: 'middle', fill: '#9fb2bf'});

label(svg, 1213, 1321, staffLabels[0], 11.5, {anchor: 'middle', fill: SOFT});
label(svg, 1213, 1337, staffValues[0], 11.5, {anchor: 'middle', ltr: true, bold: true, fill: ORANGE});
label(svg, 1209, 1397, staffLabels[1], 11.5, {anchor: 'middle', fill: SOFT});
label(svg, 1209, 1415, staffValues[1], 11.5, {anchor: 'middle', ltr: true, bold: true, fill: BLUE});
label(svg, 1004, 1375, 'מקצועות', 11.5, {anchor: 'middle', fill: SOFT});
label(svg, 1004, 1388, 'אחרים', 11.5, {anchor: 'middle', fill: SOFT});
label(svg, 1004, 1405, staffValues[2], 11.5, {anchor: 'middle', ltr: true, bold: true, fill: GREEN});
infoIcon(svg, 997, 1350, 6.5, 'none', GREEN);
svg.append('circle').attr('cx', 997).attr('cy', 1350).attr('r', 6.5).attr('fill', 'none').attr('stroke', GREEN).attr('stroke-width', 1.2);
svg.append('path').attr('d', 'M1147,1361L1156,1343H1176').attr('fill', 'none').attr('stroke', ORANGE);
svg.append('path').attr('d', 'M1153,1400L1162,1410H1190').attr('fill', 'none').attr('stroke', BLUE);
svg.append('path').attr('d', 'M1059,1388L1052,1393H1027').attr('fill', 'none').attr('stroke', GREEN);

// ---- hospitals table
panel(443, 1224, 502, 281);
label(svg, 922, 1250, 'סטטוס בתי החולים', 13, {bold: true});

var hospitalLayer = clipTo('hospitalClip', 443, 1224, 502, 281);
hospitalLayer.append('rect').attr('x', 443).attr('y', 1273).attr('width', 502).attr('height', 30).attr('fill', DARK);
label(hospitalLayer, 941, 1288, hospitalHeaders[0], 12, {fill: SOFT});
label(hospitalLayer, 748, 1288, hospitalHeaders[1], 12, {anchor: 'middle', fill: SOFT});
label(hospitalLayer, 634, 1289, hospitalHeaders[2], 12, {anchor: 'middle', fill: SOFT});
label(hospitalLayer, 503, 1288, hospitalHeaders[3], 12, {anchor: 'middle', fill: SOFT});
hospitalLayer.append('path').attr('d', 'M581.5,1284h8.5l-4.2,6.5z').attr('fill', '#2f80dc');

var hospitalRow = d3.scaleBand().domain(d3.range(hospitalNames.length)).range([1301, 1523]),
    occupancyW = d3.scaleLinear().domain([0, 100]).range([0, 44.6]);

hospitalNames.forEach(function(name, r) {
    var y = hospitalRow(r) + hospitalRow.bandwidth() / 2;
    label(hospitalLayer, 941, y, name, 13, {bold: true});
    label(hospitalLayer, 723, y, hospitalOccupancy[r].toFixed(2) + '%', 12.3, {anchor: 'middle', ltr: true});
    hospitalLayer.append('rect').attr('x', 754).attr('y', y - 6.5).attr('width', 44).attr('height', 13).attr('rx', 3).attr('fill', '#2b3e4d');
    hospitalLayer.append('rect').attr('x', 798 - occupancyW(hospitalOccupancy[r])).attr('y', y - 6.5)
        .attr('width', occupancyW(hospitalOccupancy[r])).attr('height', 13).attr('fill', BLUE);
    hospitalLayer.append('rect').attr('x', 630).attr('y', y - 6.5).attr('width', 44).attr('height', 13).attr('rx', 6).attr('fill', '#2b3e4d');
    label(hospitalLayer, 602, y, 'אין מידע', 11.5, {anchor: 'middle', fill: SOFT});
    label(hospitalLayer, 502, y, hospitalStaff[r], 12.5, {anchor: 'middle', ltr: true});
    if (r > 0) {
        hospitalLayer.append('line').attr('x1', 443).attr('x2', 945).attr('y1', hospitalRow(r)).attr('y2', hospitalRow(r))
            .attr('stroke', RULE).attr('stroke-width', 1.5);
    }
});

// ---- tests
panel(27, 1224, 398, 281);
label(svg, 403, 1250, 'בדיקות לאיתור נדבקים', 13, {bold: true});
hint(svg, 164, 394, 1270, 20, 'הנתונים אינם כוללים מידע על בדיקות לאבחון החלמה', 8.7);
legendDot(svg, 392, 1291, BLUE, 'בדיקות');
legendDot(svg, 336, 1291, ORANGE, 'מאומתים');

var testX = d3.scalePoint().domain(testDates).range([124, 386]),
    testY = d3.scaleLinear().domain([0, 70000]).range([1436, 1315]);

svg.append('g').attr('transform', 'translate(96,0)')
    .call(d3.axisLeft(testY).tickValues(testTicks).tickFormat(d3.format(',')).tickSize(0).tickPadding(0))
    .call(styleAxis, 10.5);
svg.append('g').attr('transform', 'translate(0,1436)')
    .call(d3.axisBottom(testX).tickSize(0).tickPadding(7))
    .call(styleAxis, 10.5);
svg.selectAll('.tests').data(testValues).enter().append('path')
    .attr('class', 'tests').attr('fill', BLUE)
    .attr('d', function(d, i) { return roundTop(testX(testDates[i]), testY(0) - 8, testY(d), 8); });
testValues.forEach(function(v, i) {
    var x = testX(testDates[i]);
    label(svg, x, testY(v) - 21, d3.format(',')(v), 10, {anchor: 'middle', ltr: true, fill: SOFT});
    svg.append('rect').attr('x', x - 15).attr('y', 1420.5).attr('width', 30).attr('height', 15).attr('rx', 2.5)
        .attr('fill', '#2f4252').attr('stroke', ORANGE).attr('stroke-width', 1.2);
    label(svg, x, 1428, testPositive[i], 9.5, {anchor: 'middle', ltr: true});
});
vlabel(svg, 43, 1375, 'מספר בדיקות', 10);
label(svg, 226, 1467, 'תאריך הבדיקה', 10.5, {anchor: 'middle', fill: SOFT});
</script>
</body>
</html>
